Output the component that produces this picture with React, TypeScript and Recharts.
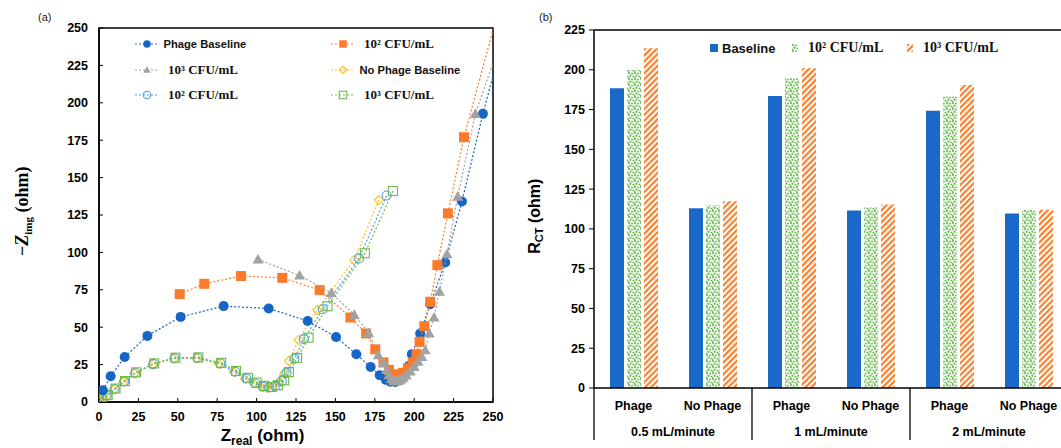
import React from 'react';
import {
  ScatterChart,
  Scatter,
  BarChart,
  Bar,
  XAxis,
  YAxis,
  ReferenceArea,
  ReferenceLine,
  Legend,
  Label,
} from 'recharts';

const SANS = '"Liberation Sans", Arial, Helvetica, sans-serif';
const SERIF = '"Liberation Serif", "Times New Roman", Times, serif';

// (a) Nyquist plot, each point is [Z_real, -Z_img] in ohm
const phageBaseline = [
  [2.5, 7.8], [7.4, 17.2], [16.3, 30.1], [30.7, 44.2], [51.8, 56.9], [79.1, 64.1],
  [107.7, 62.5], [132.4, 54.2], [150.4, 43.5], [163.3, 31.9], [172.4, 23.4], [178.1, 17.9],
  [182, 14.8], [185, 13.6], [188, 13.4], [191, 15], [194, 18.5], [196.5, 24], [198.5, 32],
  [203.8, 45.8], [210.2, 65.4], [219.7, 93.3], [230.3, 134], [243.6, 192.6], [256, 242],
];
const phage1e2 = [
  [51.2, 72.1], [66.8, 79], [90.1, 84.2], [116.3, 83], [140, 74.8], [159.5, 56.5],
  [169.5, 45.8], [175.3, 35.2], [180.5, 26.5], [184, 21.5], [187, 18.5], [190, 18],
  [193, 19.5], [196, 22.5], [199, 26.5], [201.5, 32], [203.4, 40.2], [206.4, 50.7],
  [210.2, 67], [214.7, 91.5], [221.4, 126.1], [231.6, 177], [256, 272],
];
const phage1e3 = [
  [100.9, 95.3], [127.3, 84.6], [147.4, 73], [162, 58.3], [171.1, 46.2], [177.2, 31.3],
  [180.5, 26], [182.5, 21.5], [184, 18], [185.5, 15.5], [187, 14.2], [188.5, 13.8],
  [190, 14.2], [191.5, 15], [193, 16.2], [195, 17.8], [197.5, 20.5], [200, 23.5],
  [202.5, 27], [204.9, 30.1], [207, 34.6], [209.5, 45.8], [212.6, 56.5], [216, 73.7],
  [220.8, 98.9], [227.6, 137.3], [238.8, 192.6], [256, 245],
];
const noPhageBaseline = [
  [0, 0], [1.5, 1.5], [4.5, 4], [9.5, 8.3], [15.5, 13.5], [22.5, 19], [34, 25], [47.5, 29],
  [62, 29.2], [76, 25.5], [85.5, 20], [92.5, 15.5], [98, 12.5], [102.5, 10.5], [106.5, 9.5],
  [110.5, 10.5], [114.5, 13.5], [117.5, 19], [120.5, 27.5], [126.5, 41.5], [138.5, 61.5],
  [162, 95], [177.5, 135],
];
const noPhage1e2 = [
  [0, 0], [1.8, 1.8], [5, 4.3], [10, 8.7], [16, 13.8], [23, 19.4], [34.5, 25.5], [48, 29.3],
  [62.5, 29.5], [77, 25.8], [86.5, 20.3], [93.5, 15.8], [99, 12.5], [104, 10.3], [108, 9.7],
  [112, 10.8], [116, 14], [119, 19.5], [124, 29], [130, 42], [142, 62], [165, 96], [182.5, 138],
];
const noPhage1e3 = [
  [0, 0], [2, 2], [5.5, 4.6], [10.5, 9], [16.5, 14], [23.5, 19.8], [35, 25.8], [48.5, 29.6],
  [63, 29.8], [77.5, 26.2], [87, 20.8], [94.5, 16.2], [100, 13], [105, 10.8], [109.5, 10],
  [113.5, 11.2], [117.5, 14.5], [120.5, 20], [125.7, 29.5], [133, 43], [145, 64],
  [168.7, 99.4], [186.5, 141],
];
const nyquistTicks = [0, 25, 50, 75, 100, 125, 150, 175, 200, 225, 250];

// (b) charge transfer resistance
const flowRates = ['0.5 mL/minute', '1 mL/minute', '2 mL/minute'];
const conditions = ['Phage', 'No Phage'];
const rctBaseline = [188.4, 113, 183.5, 111.5, 174.3, 109.6];
const rct1e2 = [199.9, 114.7, 194.6, 113.4, 183.1, 112];
const rct1e3 = [213.5, 117.4, 200.9, 115.3, 190.4, 112];
const rctTicks = [0, 25, 50, 75, 100, 125, 150, 175, 200, 225];

const nyquistSeries = [
  { name: 'Phage Baseline', data: phageBaseline, color: '#1766c6', marker: 'circle', size: 10, serif: false },
  { name: '10² CFU/mL', data: phage1e2, color: '#fb7b2c', marker: 'square', size: 10, serif: true },
  { name: '10³ CFU/mL', data: phage1e3, color: '#a2a2a2', marker: 'triangle', size: 11, serif: true },
  { name: 'No Phage Baseline', data: noPhageBaseline, color: '#f9c21d', marker: 'diamond', size: 9, serif: false },
  { name: '10² CFU/mL', data: noPhage1e2, color: '#4a9fe0', marker: 'openCircle', size: 9, serif: true },
  { name: '10³ CFU/mL', data: noPhage1e3, color: '#6cbb4e', marker: 'openSquare', size: 9, serif: true },
];
const drawOrder = [3, 4, 5, 0, 1, 2];

const barData = flowRates.flatMap((flow, i) =>
  conditions.map((condition, j) => ({
    key: `${flow}|${condition}`,
    flow,
    condition,
    baseline: rctBaseline[i * conditions.length + j],
    cfu2: rct1e2[i * conditions.length + j],
    cfu3: rct1e3[i * conditions.length + j],
  }))
);

function markerShape(kind: string, color: string, size: number) {
  return (p: any) => {
    const { cx, cy } = p;
    if (cx == null || cy == null) return <g />;
    const h = size / 2;
    switch (kind) {
      case 'circle':
        return <circle cx={cx} cy={cy} r={h} fill={color} />;
      case 'square':
        return <rect x={cx - h} y={cy - h} width={size} height={size} fill={color} />;
      case 'triangle':
        return <polygon points={`${cx},${cy - h} ${cx + h},${cy + h * 0.75} ${cx - h},${cy + h * 0.75}`} fill={color} />;
      case 'diamond':
        return <polygon points={`${cx},${cy - h} ${cx + h},${cy} ${cx},${cy + h} ${cx - h},${cy}`} fill="none" stroke={color} strokeWidth={1.1} />;
      case 'openCircle':
        return <circle cx={cx} cy={cy} r={h} fill="none" stroke={color} strokeWidth={1.1} />;
      default:
        return <rect x={cx - h} y={cy - h} width={size} height={size} fill="none" stroke={color} strokeWidth={1.1} />;
    }
  };
}

const NyquistLegend = () => (
  <div style={{ position: 'relative', width: 520, height: 110 }}>
    {nyquistSeries.map((s, i) => {
      const col = i % 2;
      const row = Math.floor(i / 2);
      const left = col === 0 ? 135 : 331;
      const top = [43.5, 69.5, 95][row] - 7;
      return (
        <div
          key={i}
          style={{ position: 'absolute', left, top, height: 14, display: 'flex', alignItems: 'center', whiteSpace: 'nowrap' }}
        >
          <svg width={24} height={14}>
            <line x1={0} x2={24} y1={7} y2={7} stroke={s.color} strokeWidth={1.2} strokeDasharray="2 2" />
            {markerShape(s.marker, s.color, 7.5)({ cx: 12, cy: 7 })}
          </svg>
          <span
            style={{
              marginLeft: s.serif ? 9 : 4.5,
              fontFamily: s.serif ? SERIF : SANS,
              fontWeight: 700,
              fontSize: s.serif ? 13 : 11.2,
              color: '#111',
              lineHeight: '14px',
            }}
          >
            {s.name}
          </span>
        </div>
      );
    })}
  </div>
);

const RctLegend = () => {
  const items = [
    { label: 'Baseline', fill: '#1a68c8', left: 190, serif: false, gap: 4 },
    { label: '10² CFU/mL', fill: 'url(#rctDots)', left: 272, serif: true, gap: 10 },
    { label: '10³ CFU/mL', fill: 'url(#rctHatch)', left: 387, serif: true, gap: 10 },
  ];
  return (
    <div style={{ position: 'relative', width: 560, height: 20 }}>
      {items.map((it) => (
        <div
          key={it.left}
          style={{ position: 'absolute', left: it.left, top: 0, height: 20, display: 'flex', alignItems: 'center', whiteSpace: 'nowrap' }}
        >
          <svg width={it.serif ? 6 : 8} height={8}>
            <rect width={it.serif ? 6 : 8} height={8} fill={it.fill} />
          </svg>
          <span
            style={{
              marginLeft: it.gap,
              fontFamily: it.serif ? SERIF : SANS,
              fontWeight: 700,
              fontSize: it.serif ? 14 : 13,
              color: '#111',
            }}
          >
            {it.label}
          </span>
        </div>
      ))}
    </div>
  );
};

const XLabelA = (props: any) => {
  const vb = props.viewBox ?? { x: 99, y: 402, width: 394, height: 46 };
  return (
    <text x={vb.x + vb.width * 0.415} y={vb.y + 39} textAnchor="middle" fontFamily={SANS} fontWeight={700} fontSize={17} fill="#000">
      Z<tspan fontSize={12} dy={4}>real</tspan>
      <tspan dy={-4}>{' (ohm)'}</tspan>
    </text>
  );
};

const YLabelA = (props: any) => {
  const vb = props.viewBox ?? { x: 0, y: 28, width: 99, height: 374 };
  const cx = vb.x + 28;
  const cy = vb.y + vb.height * 0.49;
  return (
    <text transform={`rotate(-90, ${cx}, ${cy})`} x={cx} y={cy} textAnchor="middle" fontFamily={SERIF} fontWeight={700} fontSize={18} fill="#000">
      −<tspan fontStyle="italic">Z</tspan>
      <tspan fontSize={11} dy={4}>img</tspan>
      <tspan dy={-4}>{' (ohm)'}</tspan>
    </text>
  );
};

const YLabelB = (props: any) => {
  const vb = props.viewBox ?? { x: 0, y: 30, width: 74, height: 358 };
  const cx = vb.x + 20;
  const cy = vb.y + vb.height * 0.52;
  return (
    <text transform={`rotate(-90, ${cx}, ${cy})`} x={cx} y={cy} textAnchor="middle" fontFamily={SANS} fontWeight={700} fontSize={16} fill="#000">
      R<tspan fontSize={11} dy={3}>CT</tspan>
      <tspan dy={-3}>{' (ohm)'}</tspan>
    </text>
  );
};

const BarTick = (props: any) => {
  const { x, y, payload } = props;
  const row = barData.find((d) => d.key === payload?.value);
  if (!row) return <g />;
  const half = typeof payload?.offset === 'number' && payload.offset > 0 ? payload.offset : 39.5;
  const first = row.condition === conditions[0];
  const textStyle = { fontFamily: SANS, fontWeight: 700, fontSize: 12.5, fill: '#000' };
  return (
    <g>
      <text x={x} y={y + 22} textAnchor="middle" {...textStyle}>
        {row.condition}
      </text>
      {first && (
        <text x={x + half} y={y + 48} textAnchor="middle" {...textStyle}>
          {row.flow}
        </text>
      )}
      {first && <line x1={x - half} x2={x - half} y1={y} y2={y + 52} stroke="#000" strokeWidth={1.3} />}
    </g>
  );
};

const tickFont = { fill: '#000', fontSize: 12.5, fontWeight: 700, fontFamily: SANS };

export default function App() {
  return (
    <div style={{ position: 'fixed', left: 0, top: 0, width: 1061, height: 448, overflow: 'hidden', background: '#fff' }}>
      <div style={{ position: 'absolute', left: 0, top: 0 }}>
        <ScatterChart width={520} height={448} margin={{ top: 28, right: 27, bottom: 0, left: 0 }}>
          <XAxis
            type="number"
            dataKey="x"
            domain={[0, 250]}
            ticks={nyquistTicks}
            allowDataOverflow
            interval={0}
            height={46}
            tickSize={-4}
            tickMargin={14}
            axisLine={{ stroke: '#000', strokeWidth: 1.5 }}
            tickLine={{ stroke: '#000' }}
            tick={tickFont}
            label={<Label content={XLabelA} />}
          />
          <YAxis
            type="number"
            dataKey="y"
            domain={[0, 250]}
            ticks={nyquistTicks}
            allowDataOverflow
            interval={0}
            width={99}
            tickSize={-4}
            tickMargin={15}
            axisLine={{ stroke: '#000', strokeWidth: 1.5 }}
            tickLine={{ stroke: '#000' }}
            tick={tickFont}
            label={<Label content={YLabelA} />}
          />
          <ReferenceArea x1={0} x2={250} y1={0} y2={250} fill="none" stroke="#000" strokeWidth={1.5} />
          {drawOrder.map((i) => {
            const s = nyquistSeries[i];
            return (
              <Scatter
                key={i}
                name={s.name}
                data={s.data.map(([x, y]) => ({ x, y }))}
                line={{ stroke: s.color, strokeWidth: 1.2, strokeDasharray: '2 2' }}
                lineType="joint"
                shape={markerShape(s.marker, s.color, s.size)}
                isAnimationActive={false}
              />
            );
          })}
          <Legend
            layout="vertical"
            verticalAlign="middle"
            align="center"
            wrapperStyle={{ left: 0, top: 0, width: 520, height: 110 }}
            content={NyquistLegend}
          />
        </ScatterChart>
      </div>

      <div style={{ position: 'absolute', left: 520, top: 0 }}>
        <BarChart
          width={560}
          height={448}
          data={barData}
          margin={{ top: 30, right: 12, bottom: 0, left: 0 }}
          barSize={14}
          barGap={3}
        >
          <defs>
            <pattern id="rctDots" width={6} height={6} patternUnits="userSpaceOnUse">
              <rect width={6} height={6} fill="#eef8e8" />
              <circle cx={1} cy={1} r={1} fill="#5cb546" />
              <circle cx={4} cy={1.6} r={0.9} fill="#5cb546" />
              <circle cx={2.4} cy={3.8} r={1} fill="#5cb546" />
              <circle cx={5.2} cy={4.6} r={0.8} fill="#5cb546" />
              <circle cx={0.6} cy={5.4} r={0.7} fill="#5cb546" />
            </pattern>
            <pattern id="rctHatch" width={4.2} height={4.2} patternUnits="userSpaceOnUse" patternTransform="rotate(45)">
              <rect width={4.2} height={4.2} fill="#fff" />
              <rect width={2.2} height={4.2} fill="#f7812f" />
            </pattern>
          </defs>
          <XAxis
            dataKey="key"
            interval={0}
            height={60}
            tickLine={false}
            tickSize={0}
            tickMargin={0}
            axisLine={{ stroke: '#000', strokeWidth: 1.5 }}
            tick={<BarTick />}
          />
          <YAxis
            type="number"
            domain={[0, 225]}
            ticks={rctTicks}
            interval={0}
            width={74}
            tickSize={5}
            tickMargin={4}
            axisLine={{ stroke: '#000', strokeWidth: 1.5 }}
            tickLine={{ stroke: '#000' }}
            tick={tickFont}
            label={<Label content={YLabelB} />}
          />
          <ReferenceLine y={225} stroke="#000" strokeWidth={1.5} />
          <Bar dataKey="baseline" name="Baseline" fill="#1a68c8" isAnimationActive={false} />
          <Bar dataKey="cfu2" name="10² CFU/mL" fill="url(#rctDots)" isAnimationActive={false} />
          <Bar dataKey="cfu3" name="10³ CFU/mL" fill="url(#rctHatch)" isAnimationActive={false} />
          <Legend
            layout="vertical"
            verticalAlign="middle"
            align="center"
            wrapperStyle={{ left: 0, top: 38, width: 560, height: 20 }}
            content={RctLegend}
          />
        </BarChart>
      </div>

      <div style={{ position: 'absolute', left: 38, top: 11, fontFamily: SANS, fontSize: 11, color: '#222' }}>(a)</div>
      <div style={{ position: 'absolute', left: 539, top: 11, fontFamily: SANS, fontSize: 11, color: '#222' }}>(b)</div>
    </div>
  );
}
